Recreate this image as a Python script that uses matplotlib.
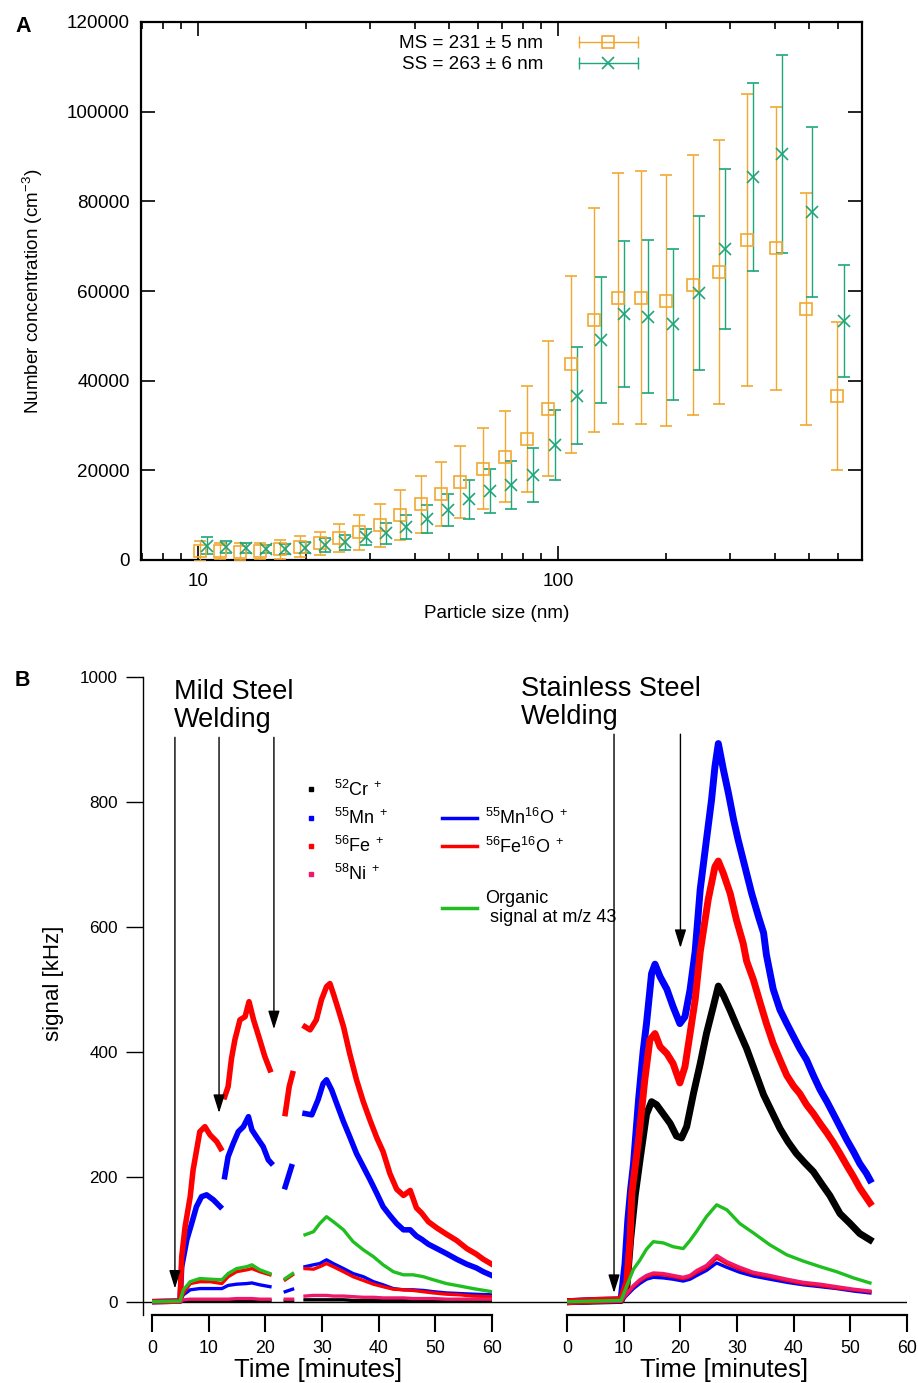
import numpy as np
import matplotlib
matplotlib.use("Agg")
import matplotlib.pyplot as plt
from matplotlib.lines import Line2D
from matplotlib.legend_handler import HandlerBase
from matplotlib.ticker import FixedLocator, LogLocator, NullFormatter

plt.rcParams['font.family'] = ['Liberation Sans', 'DejaVu Sans']
plt.rcParams['mathtext.fontset'] = 'custom'
plt.rcParams['mathtext.rm'] = 'Liberation Sans'
plt.rcParams['mathtext.it'] = 'Liberation Sans:italic'
plt.rcParams['mathtext.bf'] = 'Liberation Sans:bold'

nan = np.nan

# ---------------- panel A: size distributions ----------------
ms_size = [10.13, 11.51, 13.08, 14.87, 16.90, 19.20, 21.83, 24.70, 28.06, 32.03,
           36.40, 41.56, 47.40, 53.43, 62.01, 71.26, 81.88, 93.99, 108.7, 125.9,
           146.5, 170.8, 200.4, 236.7, 280.6, 335.6, 403.3, 490.8, 596.8]
ms_conc = [2070, 2070, 1850, 2070, 2380, 2970, 3720, 4830, 6170, 7800,
           10040, 12420, 14720, 17470, 20370, 23050, 26920, 33750, 43640, 53530,
           58370, 58500, 57850, 61340, 64300, 71380, 69520, 55990, 36580]
ms_err = [2200, 1800, 1900, 1800, 2100, 2400, 2600, 3100, 3900, 4800,
          5600, 6300, 7200, 8000, 9100, 10200, 11800, 15000, 19800, 25000,
          28000, 28200, 28000, 29000, 29400, 32500, 31600, 25800, 16500]

ss_size = [10.57, 11.96, 13.59, 15.42, 17.45, 19.87, 22.53, 25.61, 29.23, 33.22,
           37.75, 43.18, 49.39, 56.48, 64.73, 74.02, 85.23, 98.10, 113.1, 131.4,
           152.5, 178.2, 209.1, 246.4, 292.3, 348.7, 420.0, 510.0, 623.0]
ss_conc = [3200, 2830, 2600, 2380, 2520, 2750, 3350, 3940, 5060, 5950,
           7290, 9070, 11150, 13530, 15470, 16730, 18960, 25650, 36650, 49070,
           54800, 54270, 52570, 59620, 69370, 85500, 90560, 77690, 53310]
ss_err = [1950, 1300, 1100, 900, 1100, 1300, 1500, 1700, 1800, 2300,
          2700, 3100, 3600, 4400, 4900, 5400, 6000, 7900, 10800, 14000,
          16300, 17100, 16900, 17200, 17900, 21000, 22000, 19000, 12600]

ms_label = "MS = 231 \u00b1 5 nm"
ss_label = "SS = 263 \u00b1 6 nm"

# ---------------- panel B: mild steel welding ----------------
mild_fe_t = [0, 4.9, 5.2, 5.8, 6.7, 7.2, 8.4, 9.3, 10.2, 11.4, 12.1, 12.4, 12.8, 13.4, 14.0,
             14.6, 15.5, 16.4, 17.1, 17.9, 19.0, 19.9, 20.8, 22.0, 23.5, 24.2, 24.8, 26.0,
             27.0, 27.9, 29.0, 29.9, 30.8, 31.4, 32.0, 32.9, 33.8, 34.9, 36.1, 37.3, 38.5,
             39.7, 40.8, 42.0, 43.2, 44.4, 45.6, 46.7, 47.6, 48.8, 50.3, 52.0, 53.8, 55.6,
             57.3, 58.5, 60.0]
mild_fe = [0, 1, 72, 120, 168, 210, 272, 280, 267, 256, 245, nan, 328, 344, 389,
           419, 451, 456, 480, 451, 419, 392, 371, nan, 301, 344, 365, nan,
           440, 435, 451, 483, 504, 509, 493, 467, 440, 397, 355, 320, 290,
           262, 240, 205, 180, 170, 178, 150, 142, 128, 118, 108, 98, 85,
           76, 68, 60]

mild_mn_t = [0, 4.9, 5.2, 6.1, 6.95, 7.8, 8.7, 9.6, 10.8, 12.0, 12.4, 12.8, 13.4, 14.3,
             15.2, 16.1, 17.0, 17.6, 18.4, 19.6, 20.5, 21.0, 22.0, 23.5, 24.6, 26.0, 27.0,
             28.2, 29.3, 30.2, 30.8, 31.7, 32.6, 33.8, 34.9, 36.1, 37.3, 38.5, 39.7, 40.8,
             42.0, 43.2, 44.4, 45.6, 46.7, 47.6, 48.8, 50.3, 52.0, 53.8, 55.6, 57.3, 58.5,
             60.0]
mild_mn = [0, 1, 56, 99, 125, 152, 168, 171, 163, 152, nan, 200, 232, 253,
           272, 280, 296, 275, 264, 248, 227, 222, nan, 184, 216, nan, 301,
           299, 323, 349, 355, 339, 317, 288, 264, 237, 216, 195, 173, 152,
           138, 125, 115, 115, 105, 100, 92, 85, 77, 68, 60, 54, 48,
           42]

mild_t_low = [0, 4.9, 5.5, 6.7, 8.4, 10.2, 12.3, 13.4, 14.9, 16.7, 17.6, 19.0, 20.8, 22.0,
              23.5, 24.8, 26.0, 27.0, 28.5, 29.6, 30.8, 32.0, 33.8, 35.5, 37.3, 39.1, 40.8,
              42.6, 44.4, 46.1, 47.9, 49.7, 52.0, 54.4, 56.7, 60.0]
mild_org = [0, 1, 19, 32, 37, 36, 35, 45, 53, 56, 59, 51, 45, nan,
            37, 45, nan, 107, 112, 125, 136, 128, 115, 96, 83, 72, 59,
            48, 43, 43, 40, 35, 29, 25, 21, 16]
mild_feo = [0, 1, 13, 29, 32, 32, 29, 40, 48, 51, 53, 48, 43, nan,
            35, 43, nan, 53, 52, 56, 61, 56, 48, 40, 34, 28, 24,
            20, 19, 18, 16, 14, 12, 11, 9, 8]
mild_mno = [0, 1, 11, 19, 21, 21, 21, 26, 28, 29, 30, 27, 24, nan,
            16, 20, nan, 56, 59, 61, 67, 61, 53, 45, 40, 32, 27,
            21, 19, 19, 18, 16, 14, 13, 12, 11]
mild_ni = [0, 0, 3, 4, 4, 4, 4, 4, 5, 5, 5, 4, 4, nan,
           4, 4, nan, 9, 10, 10, 10, 9, 9, 8, 7, 7, 6,
           6, 6, 5, 5, 5, 4, 4, 4, 4]
mild_cr = [0, 0, 1, 1, 1, 1, 1, 1, 2, 2, 2, 2, 2, nan,
           1, 1, nan, 3, 3, 3, 3, 3, 3, 2, 2, 2, 2,
           2, 2, 1, 1, 1, 1, 1, 1, 1]

# ---------------- panel B: stainless steel welding ----------------
ss_mn_t = [0, 5, 9.5, 10.2, 10.7, 11.2, 11.7, 12.6, 13.4, 14.0, 14.9, 15.5, 16.4, 17.6,
           18.7, 19.9, 20.8, 21.7, 22.6, 23.5, 24.6, 25.5, 26.1, 26.7, 27.6, 28.5, 29.4,
           30.2, 31.4, 32.6, 33.8, 34.7, 35.2, 36.4, 37.6, 38.8, 40.0, 41.1, 42.3, 43.5,
           44.7, 45.9, 47.0, 48.2, 49.4, 50.6, 51.7, 52.9, 53.5]
ss_mn = [0, 2, 3, 60, 130, 180, 220, 323, 400, 445, 525, 540, 520, 500,
         472, 445, 456, 499, 560, 660, 739, 803, 856, 893, 851, 813, 771,
         739, 696, 653, 616, 590, 555, 500, 467, 445, 424, 405, 387, 362,
         339, 320, 301, 280, 259, 240, 221, 205, 195]

ss_fe_t = [0, 5, 9.5, 10.5, 11.1, 11.4, 12.6, 13.7, 14.6, 15.5, 16.4, 17.6, 18.7, 19.9,
           20.8, 21.7, 22.6, 23.5, 24.9, 26.1, 26.7, 27.6, 28.8, 29.9, 31.1, 31.7, 32.9,
           34.1, 35.2, 36.4, 37.6, 38.8, 40.0, 41.1, 42.3, 43.5, 44.7, 45.9, 47.0, 48.2,
           49.4, 50.6, 51.7, 52.6, 53.5]
ss_fe = [0, 2, 3, 30, 100, 173, 259, 355, 419, 429, 408, 397, 381, 350,
         376, 429, 483, 560, 643, 696, 705, 685, 653, 611, 573, 545, 515,
         478, 445, 413, 387, 362, 345, 333, 315, 301, 285, 270, 255, 237,
         218, 200, 182, 170, 158]

ss_cr_t = [0, 5, 9.5, 10.5, 11.2, 12.0, 12.9, 14.0, 14.9, 15.8, 17.0, 18.2, 19.3, 20.2,
           21.1, 22.3, 23.5, 24.6, 25.8, 26.7, 27.6, 28.8, 30.2, 31.7, 33.2, 34.7, 36.2,
           37.6, 39.0, 40.5, 42.0, 43.5, 45.0, 46.4, 48.2, 50.0, 51.7, 53.5]
ss_cr = [0, 1, 2, 20, 100, 170, 230, 300, 320, 315, 300, 285, 265, 262,
         280, 333, 381, 429, 472, 505, 490, 466, 436, 405, 368, 331, 303,
         277, 256, 237, 222, 208, 188, 170, 141, 125, 109, 99]

ss_t_low = [0, 5, 9.5, 10.5, 11.7, 12.8, 14.0, 15.2, 17.0, 18.7, 20.5, 21.7, 22.9, 24.6,
            26.4, 28.2, 30.5, 32.9, 35.8, 38.8, 41.7, 44.7, 47.6, 50.6, 53.5]
ss_org = [0, 1, 2, 25, 52, 66, 84, 96, 94, 88, 85, 98, 113, 136,
          155, 147, 125, 110, 91, 75, 65, 56, 48, 38, 30]
ss_ni = [0, 1, 1, 13, 26, 35, 42, 46, 45, 42, 39, 42, 50, 58,
         74, 64, 55, 47, 42, 36, 31, 28, 24, 20, 17]
ss_feo = [0, 1, 1, 12, 24, 33, 40, 44, 43, 40, 37, 40, 47, 55,
          70, 61, 52, 45, 40, 34, 29, 26, 22, 19, 16]
ss_mno = [0, 1, 1, 10, 21, 29, 36, 39, 38, 36, 33, 36, 42, 50,
          62, 55, 47, 41, 36, 31, 27, 24, 21, 17, 14]

ion_labels = [r'$^{52}$Cr$^{\ +}$', r'$^{55}$Mn$^{\ +}$', r'$^{56}$Fe$^{\ +}$', r'$^{58}$Ni$^{\ +}$']
oxide_labels = [r'$^{55}$Mn$^{16}$O$^{\ +}$', r'$^{56}$Fe$^{16}$O$^{\ +}$', ' ',
                'Organic\n signal at m/z 43']

orange = '#f0a830'
teal = '#1fa67a'
c_cr, c_mn, c_fe, c_ni, c_org = '#000000', '#0000ff', '#ff0000', '#f0186a', '#1fbf1f'

W, H = 918, 1383
fig = plt.figure(figsize=(W / 100, H / 100), dpi=100)


def box(x0, y0, x1, y1):
    return [x0 / W, 1 - y1 / H, (x1 - x0) / W, (y1 - y0) / H]


# ---------- A ----------
axA = fig.add_axes(box(141, 22, 862, 560))
axA.errorbar(ms_size, ms_conc, yerr=ms_err, fmt='s', ms=8, mfc='none', mec=orange, mew=1.2,
             ecolor=orange, elinewidth=1.0, capsize=4.5, capthick=1.0, zorder=3)
axA.errorbar(ss_size, ss_conc, yerr=ss_err, fmt='x', ms=8, mec=teal, mew=1.2,
             ecolor=teal, elinewidth=1.0, capsize=4.5, capthick=1.0, zorder=3)
axA.set_xscale('log')
axA.set_xlim(6.95, 700)
axA.set_ylim(0, 120000)
axA.xaxis.set_major_locator(FixedLocator([10, 100]))
axA.set_xticklabels(['10', '100'])
axA.xaxis.set_minor_locator(LogLocator(base=10, subs=np.arange(2, 10)))
axA.xaxis.set_minor_formatter(NullFormatter())
axA.set_yticks(np.arange(0, 120001, 20000))
axA.tick_params(which='both', direction='in', top=True, right=True, labelsize=13.6)
axA.tick_params(which='major', length=10, width=1.2)
axA.tick_params(which='minor', length=5, width=1.2)
axA.tick_params(axis='y', pad=8)
axA.tick_params(axis='x', pad=9)
for s in axA.spines.values():
    s.set_linewidth(1.6)
axA.set_xlabel('Particle size (nm)', fontsize=13.6)
axA.xaxis.set_label_coords(0.493, -0.084)
axA.set_ylabel('Number concentration (cm$^{-3}$)', fontsize=13.6)
axA.yaxis.set_label_coords(-0.133, 0.5)


class CapBarHandler(HandlerBase):
    def create_artists(self, legend, orig_handle, xdescent, ydescent, width, height,
                       fontsize, trans):
        c = orig_handle.get_color()
        y = (height - ydescent) / 2
        x0, x1 = -xdescent, width - xdescent
        bar = Line2D([x0, x1], [y, y], color=c, lw=1.0)
        caps = Line2D([x0, x1], [y, y], ls='', marker='|', ms=9, mew=1.0, color=c)
        mk = Line2D([(x0 + x1) / 2], [y], ls='', marker=orig_handle.get_marker(), ms=8,
                    mfc='none', mec=c, mew=1.2)
        for a in (bar, caps, mk):
            a.set_transform(trans)
        return [bar, caps, mk]


hA = [Line2D([], [], color=orange, marker='s'), Line2D([], [], color=teal, marker='x')]
axA.legend(hA, [ms_label, ss_label], handler_map={Line2D: CapBarHandler()},
           markerfirst=False, frameon=False, loc='upper left', bbox_to_anchor=(0.345, 0.993),
           fontsize=13.6, handlelength=3.1, handletextpad=1.9, labelspacing=0.2, borderpad=0)
fig.text(15 / W, 1 - 26 / H, 'A', fontsize=15.5, fontweight='bold', va='center', ha='left')

# ---------- B ----------
ylo = -21.3
axB = fig.add_axes(box(143, 676.7, 906.7, 1315))
axB.set_ylim(ylo, 1000)
axB.set_xlim(0, 1)
axB.patch.set_visible(False)
for k in ('top', 'right', 'bottom'):
    axB.spines[k].set_visible(False)
axB.spines['left'].set_linewidth(1.0)
axB.set_xticks([])
axB.set_yticks(np.arange(0, 1001, 200))
axB.tick_params(axis='y', direction='out', length=12, width=1.0, labelsize=12.3, pad=6)
axB.axhline(0, color='k', lw=1.0, zorder=5)
axB.set_ylabel('signal [kHz]', fontsize=16)
axB.yaxis.set_label_coords(-0.104, 0.519)

axL = fig.add_axes(box(152.3, 676.7, 491.7, 1315))
axR = fig.add_axes(box(567.3, 676.7, 906.7, 1315))
for ax in (axL, axR):
    ax.set_xlim(0, 60)
    ax.set_ylim(ylo, 1000)
    ax.patch.set_visible(False)
    for k in ('top', 'right', 'left'):
        ax.spines[k].set_visible(False)
    ax.spines['bottom'].set_linewidth(1.6)
    ax.set_yticks([])
    ax.set_xticks(np.arange(0, 61, 10))
    ax.tick_params(axis='x', direction='out', length=12, width=1.5, labelsize=12.8, pad=6)
    ax.set_xlabel('Time [minutes]', fontsize=18.5, va='center')
axL.xaxis.set_label_coords(0.488, -0.0855)
axR.xaxis.set_label_coords(0.462, -0.0855)

lw_hi, lw_lo = 4.0, 2.4
axL.plot(mild_t_low, mild_cr, color=c_cr, lw=lw_lo)
axL.plot(mild_mn_t, mild_mn, color=c_mn, lw=lw_hi)
axL.plot(mild_fe_t, mild_fe, color=c_fe, lw=lw_hi)
axL.plot(mild_t_low, mild_mno, color=c_mn, lw=lw_lo)
axL.plot(mild_t_low, mild_feo, color=c_fe, lw=lw_lo)
axL.plot(mild_t_low, mild_ni, color=c_ni, lw=lw_lo)
axL.plot(mild_t_low, mild_org, color=c_org, lw=lw_lo)

axR.plot(ss_cr_t, ss_cr, color=c_cr, lw=lw_hi + 1)
axR.plot(ss_mn_t, ss_mn, color=c_mn, lw=lw_hi + 1)
axR.plot(ss_fe_t, ss_fe, color=c_fe, lw=lw_hi + 1)
axR.plot(ss_t_low, ss_mno, color=c_mn, lw=lw_lo)
axR.plot(ss_t_low, ss_feo, color=c_fe, lw=lw_lo)
axR.plot(ss_t_low, ss_ni, color=c_ni, lw=lw_lo)
axR.plot(ss_t_low, ss_org, color=c_org, lw=lw_lo)

arrow = dict(arrowstyle='-|>,head_length=0.8,head_width=0.25', color='k', lw=1.0,
             mutation_scale=14, shrinkA=0, shrinkB=0)
for t, tip in [(4.0, 21), (11.8, 302), (21.5, 436)]:
    axL.annotate('', xy=(t, tip), xytext=(t, 903), arrowprops=arrow)
for t, tip in [(8.26, 14), (20.0, 566)]:
    axR.annotate('', xy=(t, tip), xytext=(t, 908), arrowprops=arrow)

axL.text(3.84, 996, 'Mild Steel\nWelding', fontsize=19.5, ha='left', va='top', linespacing=1.1)
axR.text(-8.2, 1001, 'Stainless Steel\nWelding', fontsize=19.5, ha='left', va='top',
         linespacing=1.1)

h_ion = [Line2D([], [], ls='', marker='s', ms=2.5, color=c) for c in (c_cr, c_mn, c_fe, c_ni)]
leg1 = axB.legend(h_ion, ion_labels, loc='upper left', bbox_to_anchor=(0.196, 0.853),
                  frameon=False, fontsize=13, handlelength=1.0, handletextpad=0.8,
                  labelspacing=0.45, borderpad=0)
axB.add_artist(leg1)
h_ox = [Line2D([], [], color=c_mn, lw=2.5), Line2D([], [], color=c_fe, lw=2.5),
        Line2D([], [], color='none'), Line2D([], [], color=c_org, lw=2.5)]
axB.legend(h_ox, oxide_labels, loc='upper left', bbox_to_anchor=(0.380, 0.808),
           frameon=False, fontsize=13, handlelength=1.9, handletextpad=0.45,
           labelspacing=0.45, borderpad=0)

fig.text(15 / W, 1 - 681 / H, 'B', fontsize=15.5, fontweight='bold', va='center', ha='left')

fig.savefig('out.png', dpi=100)
